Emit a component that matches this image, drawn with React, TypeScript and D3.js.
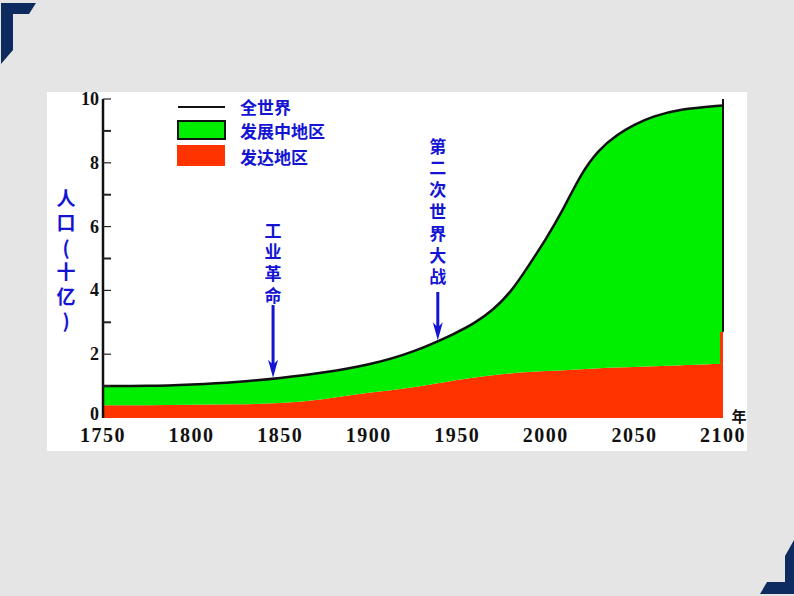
import React from "react";
import * as d3 from "d3";

// population (billions)
const years = [1750, 1775, 1800, 1825, 1850, 1875, 1900, 1925, 1950, 1960, 1970, 1980, 1990, 2000, 2010, 2020, 2030, 2040, 2050, 2060, 2075, 2100];
const worldPop = [1.0, 1.0, 1.05, 1.12, 1.25, 1.42, 1.66, 2.05, 2.68, 2.98, 3.38, 3.92, 4.75, 5.6, 6.55, 7.68, 8.42, 8.88, 9.2, 9.45, 9.68, 9.8];
const developedPop = [0.4, 0.4, 0.42, 0.43, 0.45, 0.58, 0.8, 0.95, 1.2, 1.27, 1.34, 1.4, 1.44, 1.47, 1.5, 1.53, 1.56, 1.58, 1.6, 1.62, 1.65, 1.7];

const yTicks = [0, 2, 4, 6, 8, 10];
const xTicks = [1750, 1800, 1850, 1900, 1950, 2000, 2050, 2100];

const legendLabels = ["全世界", "发展中地区", "发达地区"];
const yLabelChars = ["人", "口", "(", "十", "亿", ")"];

const events = [
  { year: 1846, chars: ["工", "业", "革", "命"], top: 229, tail: 305 },
  { year: 1939, chars: ["第", "二", "次", "世", "界", "大", "战"], top: 145, tail: 292 },
];

const GREEN = "#00ee00";
const RED = "#ff3300";
const BLUE = "#1414d2";
const NAVY = "#0d2b5e";
const CJK = "'Noto Sans CJK SC', sans-serif";
const SERIF = "'Liberation Serif', 'DejaVu Serif', serif";

const data = years.map((yr, i) => ({ yr, world: worldPop[i], dev: developedPop[i] }));

export default function App() {
  const x = d3.scaleLinear().domain([1750, 2100]).range([103, 723]);
  const y = d3.scaleLinear().domain([0, 10]).range([418, 99]);
  const curve = d3.curveBasis;

  const greenArea = d3.area<any>()
    .x(d => x(d.yr))
    .y0(d => y(d.dev))
    .y1(d => y(d.world))
    .curve(curve);
  const redArea = d3.area<any>()
    .x(d => x(d.yr))
    .y0(y(0))
    .y1(d => y(d.dev))
    .curve(curve);
  const worldLine = d3.line<any>()
    .x(d => x(d.yr))
    .y(d => y(d.world))
    .curve(curve);

  const worldAt = d3.scaleLinear().domain(years).range(worldPop);

  return (
    <svg width={794} height={596} style={{ position: "absolute", left: 0, top: 0, display: "block" }}>
      <defs>
        <clipPath id="panel">
          <rect x={47} y={92} width={700} height={359} />
        </clipPath>
      </defs>
      <rect x={0} y={0} width={794} height={596} fill="#e5e5e5" />
      <polygon points="1,3 36,3 29,14 13,14 13,50 1,64" fill={NAVY} />
      <polygon points="760,594 767,582 785,582 785,556 794,540 794,594" fill={NAVY} />

      <rect x={47} y={92} width={700} height={359} fill="#fff" />

      {/* areas */}
      <path d={redArea(data) || ""} fill={RED} />
      <path d={greenArea(data) || ""} fill={GREEN} />
      <rect x={x(2098.3)} y={y(2.7)} width={x(2100) - x(2098.3)} height={y(developedPop[developedPop.length - 1]) - y(2.7)} fill={RED} />
      <path d={worldLine(data) || ""} fill="none" stroke="#111" strokeWidth={2.5} />
      <line x1={x(2100)} x2={x(2100)} y1={y(10)} y2={y(2.7)} stroke="#111" strokeWidth={2} />

      {/* y axis */}
      <line x1={x(1750)} x2={x(1750)} y1={y(10)} y2={y(0)} stroke="#111" strokeWidth={2.5} />
      {d3.range(1, 11).map(v => (
        <line key={v} x1={x(1750)} x2={x(1750) + 8} y1={y(v)} y2={y(v)} stroke="#222" strokeWidth={v % 2 ? 2 : 1.2} />
      ))}
      {yTicks.map(v => (
        <text key={v} x={99} y={y(v) - (v === 0 ? 4 : 0)} textAnchor="end" dominantBaseline="central"
          fontFamily={SERIF} fontWeight="bold" fontSize={18} fill="#111">{v}</text>
      ))}

      {/* x labels */}
      {xTicks.map(v => (
        <text key={v} x={x(v)} y={442} textAnchor="middle" fontFamily={SERIF}
          fontWeight="bold" fontSize={20} letterSpacing={1.5} fill="#111">{v}</text>
      ))}
      <g clipPath="url(#panel)">
        <text x={739} y={415} textAnchor="middle" dominantBaseline="central" fontFamily={CJK}
          fontWeight="bold" fontSize={15} fill="#111">年</text>
      </g>

      {/* y label */}
      {yLabelChars.map((c, i) => (
        <text key={i} x={66} y={197 + i * 24.5} textAnchor="middle" dominantBaseline="central"
          fontFamily={CJK} fontWeight="bold" fontSize={19} fill={BLUE}>{c}</text>
      ))}

      {/* legend */}
      <line x1={178} x2={225} y1={107} y2={107} stroke="#111" strokeWidth={2} />
      <rect x={178} y={121} width={47} height={18} fill={GREEN} stroke="#111" strokeWidth={2} />
      <rect x={177} y={145} width={48} height={21} fill={RED} />
      {legendLabels.map((t, i) => (
        <text key={t} x={240} y={[106, 130, 156][i]} dominantBaseline="central"
          fontFamily={CJK} fontWeight="bold" fontSize={17} fill={BLUE}>{t}</text>
      ))}

      {/* event annotations */}
      {events.map(ev => {
        const ax = x(ev.year);
        const tip = y(worldAt(ev.year)) - 1;
        return (
          <g key={ev.year}>
            {ev.chars.map((c, i) => (
              <text key={i} x={ax} y={ev.top + i * 21.8} textAnchor="middle" dominantBaseline="central"
                fontFamily={CJK} fontWeight="bold" fontSize={17} fill={BLUE}>{c}</text>
            ))}
            <line x1={ax} x2={ax} y1={ev.tail} y2={tip - 12} stroke={BLUE} strokeWidth={3} />
            <polygon points={`${ax},${tip} ${ax - 5},${tip - 18} ${ax},${tip - 13} ${ax + 5},${tip - 18}`} fill={BLUE} />
          </g>
        );
      })}
    </svg>
  );
}
